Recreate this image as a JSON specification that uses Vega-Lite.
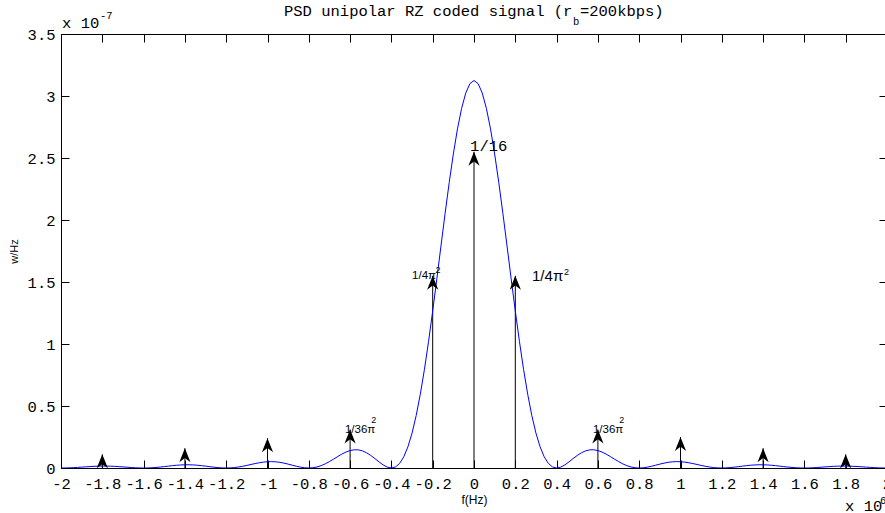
{
  "$schema": "https://vega.github.io/schema/vega-lite/v6.json",
  "width": 826,
  "height": 434,
  "autosize": {"type": "none"},
  "padding": {"left": 61, "top": 34, "right": 0, "bottom": 45},
  "background": "white",
  "config": {
    "view": {"stroke": null},
    "axis": {"grid": false, "domainColor": "black", "tickColor": "black", "domainWidth": 1, "tickWidth": 1, "labelColor": "black", "titleColor": "black"}
  },
  "datasets": {
    "curve": [
      {"f":-2.00,"p":0},{"f":-1.98,"p":0.0003},{"f":-1.96,"p":0.0013},{"f":-1.94,"p":0.0028},{"f":-1.92,"p":0.0048},
      {"f":-1.90,"p":0.0070},{"f":-1.88,"p":0.0094},{"f":-1.86,"p":0.0116},{"f":-1.84,"p":0.0135},{"f":-1.82,"p":0.0149},
      {"f":-1.80,"p":0.0156},{"f":-1.78,"p":0.0156},{"f":-1.76,"p":0.0148},{"f":-1.74,"p":0.0133},{"f":-1.72,"p":0.0112},
      {"f":-1.70,"p":0.0088},{"f":-1.68,"p":0.0062},{"f":-1.66,"p":0.0038},{"f":-1.64,"p":0.0018},{"f":-1.62,"p":0.0005},
      {"f":-1.60,"p":0},{"f":-1.58,"p":0.0005},{"f":-1.56,"p":0.0020},{"f":-1.54,"p":0.0044},{"f":-1.52,"p":0.0076},
      {"f":-1.50,"p":0.0113},{"f":-1.48,"p":0.0151},{"f":-1.46,"p":0.0189},{"f":-1.44,"p":0.0221},{"f":-1.42,"p":0.0245},
      {"f":-1.40,"p":0.0259},{"f":-1.38,"p":0.0260},{"f":-1.36,"p":0.0248},{"f":-1.34,"p":0.0224},{"f":-1.32,"p":0.0190},
      {"f":-1.30,"p":0.0150},{"f":-1.28,"p":0.0107},{"f":-1.26,"p":0.0066},{"f":-1.24,"p":0.0032},{"f":-1.22,"p":0.0008},
      {"f":-1.20,"p":0},{"f":-1.18,"p":0.0009},{"f":-1.16,"p":0.0036},{"f":-1.14,"p":0.0080},{"f":-1.12,"p":0.0140},
      {"f":-1.10,"p":0.0209},{"f":-1.08,"p":0.0284},{"f":-1.06,"p":0.0358},{"f":-1.04,"p":0.0424},{"f":-1.02,"p":0.0475},
      {"f":-1.00,"p":0.0507},{"f":-0.98,"p":0.0515},{"f":-0.96,"p":0.0497},{"f":-0.94,"p":0.0455},{"f":-0.92,"p":0.0392},
      {"f":-0.90,"p":0.0313},{"f":-0.88,"p":0.0226},{"f":-0.86,"p":0.0141},{"f":-0.84,"p":0.0069},{"f":-0.82,"p":0.0018},
      {"f":-0.80,"p":0},{"f":-0.78,"p":0.0020},{"f":-0.76,"p":0.0084},{"f":-0.74,"p":0.0191},{"f":-0.72,"p":0.0338},
      {"f":-0.70,"p":0.0517},{"f":-0.68,"p":0.0717},{"f":-0.66,"p":0.0923},{"f":-0.64,"p":0.1119},{"f":-0.62,"p":0.1286},
      {"f":-0.60,"p":0.1407},{"f":-0.58,"p":0.1469},{"f":-0.56,"p":0.1461},{"f":-0.54,"p":0.1379},{"f":-0.52,"p":0.1226},
      {"f":-0.50,"p":0.1013},{"f":-0.48,"p":0.0760},{"f":-0.46,"p":0.0494},{"f":-0.44,"p":0.0250},{"f":-0.42,"p":0.0070},
      {"f":-0.40,"p":0},{"f":-0.38,"p":0.0086},{"f":-0.36,"p":0.0373},{"f":-0.34,"p":0.0903},{"f":-0.32,"p":0.1709},
      {"f":-0.30,"p":0.2814},{"f":-0.28,"p":0.4229},{"f":-0.26,"p":0.5950},{"f":-0.24,"p":0.7955},{"f":-0.22,"p":1.0211},
      {"f":-0.20,"p":1.2665},{"f":-0.18,"p":1.5253},{"f":-0.16,"p":1.7900},{"f":-0.14,"p":2.0520},{"f":-0.12,"p":2.3026},
      {"f":-0.10,"p":2.5330},{"f":-0.08,"p":2.7348},{"f":-0.06,"p":2.9004},{"f":-0.04,"p":3.0236},{"f":-0.02,"p":3.0994},
      {"f":0,"p":3.125},
      {"f":0.02,"p":3.0994},{"f":0.04,"p":3.0236},{"f":0.06,"p":2.9004},{"f":0.08,"p":2.7348},{"f":0.10,"p":2.5330},
      {"f":0.12,"p":2.3026},{"f":0.14,"p":2.0520},{"f":0.16,"p":1.7900},{"f":0.18,"p":1.5253},{"f":0.20,"p":1.2665},
      {"f":0.22,"p":1.0211},{"f":0.24,"p":0.7955},{"f":0.26,"p":0.5950},{"f":0.28,"p":0.4229},{"f":0.30,"p":0.2814},
      {"f":0.32,"p":0.1709},{"f":0.34,"p":0.0903},{"f":0.36,"p":0.0373},{"f":0.38,"p":0.0086},{"f":0.40,"p":0},
      {"f":0.42,"p":0.0070},{"f":0.44,"p":0.0250},{"f":0.46,"p":0.0494},{"f":0.48,"p":0.0760},{"f":0.50,"p":0.1013},
      {"f":0.52,"p":0.1226},{"f":0.54,"p":0.1379},{"f":0.56,"p":0.1461},{"f":0.58,"p":0.1469},{"f":0.60,"p":0.1407},
      {"f":0.62,"p":0.1286},{"f":0.64,"p":0.1119},{"f":0.66,"p":0.0923},{"f":0.68,"p":0.0717},{"f":0.70,"p":0.0517},
      {"f":0.72,"p":0.0338},{"f":0.74,"p":0.0191},{"f":0.76,"p":0.0084},{"f":0.78,"p":0.0020},{"f":0.80,"p":0},
      {"f":0.82,"p":0.0018},{"f":0.84,"p":0.0069},{"f":0.86,"p":0.0141},{"f":0.88,"p":0.0226},{"f":0.90,"p":0.0313},
      {"f":0.92,"p":0.0392},{"f":0.94,"p":0.0455},{"f":0.96,"p":0.0497},{"f":0.98,"p":0.0515},{"f":1.00,"p":0.0507},
      {"f":1.02,"p":0.0475},{"f":1.04,"p":0.0424},{"f":1.06,"p":0.0358},{"f":1.08,"p":0.0284},{"f":1.10,"p":0.0209},
      {"f":1.12,"p":0.0140},{"f":1.14,"p":0.0080},{"f":1.16,"p":0.0036},{"f":1.18,"p":0.0009},{"f":1.20,"p":0},
      {"f":1.22,"p":0.0008},{"f":1.24,"p":0.0032},{"f":1.26,"p":0.0066},{"f":1.28,"p":0.0107},{"f":1.30,"p":0.0150},
      {"f":1.32,"p":0.0190},{"f":1.34,"p":0.0224},{"f":1.36,"p":0.0248},{"f":1.38,"p":0.0260},{"f":1.40,"p":0.0259},
      {"f":1.42,"p":0.0245},{"f":1.44,"p":0.0221},{"f":1.46,"p":0.0189},{"f":1.48,"p":0.0151},{"f":1.50,"p":0.0113},
      {"f":1.52,"p":0.0076},{"f":1.54,"p":0.0044},{"f":1.56,"p":0.0020},{"f":1.58,"p":0.0005},{"f":1.60,"p":0},
      {"f":1.62,"p":0.0005},{"f":1.64,"p":0.0018},{"f":1.66,"p":0.0038},{"f":1.68,"p":0.0062},{"f":1.70,"p":0.0088},
      {"f":1.72,"p":0.0112},{"f":1.74,"p":0.0133},{"f":1.76,"p":0.0148},{"f":1.78,"p":0.0156},{"f":1.80,"p":0.0156},
      {"f":1.82,"p":0.0149},{"f":1.84,"p":0.0135},{"f":1.86,"p":0.0116},{"f":1.88,"p":0.0094},{"f":1.90,"p":0.0070},
      {"f":1.92,"p":0.0048},{"f":1.94,"p":0.0028},{"f":1.96,"p":0.0013},{"f":1.98,"p":0.0003},{"f":2.00,"p":0}
    ],
    "imp": [
      {"f":-1.8,"h":0.11},{"f":-1.4,"h":0.16},{"f":-1,"h":0.24},{"f":-0.6,"h":0.31},{"f":-0.2,"h":1.55},
      {"f":0,"h":2.55},
      {"f":0.2,"h":1.55},{"f":0.6,"h":0.31},{"f":1,"h":0.25},{"f":1.4,"h":0.16},{"f":1.8,"h":0.11}
    ],
    "notes": [
      {"g":"mono","f":-0.920,"y":3.645,"t":"PSD unipolar RZ coded signal (r"},
      {"g":"monoSmall","f":0.479,"y":3.573,"t":"b"},
      {"g":"mono","f":0.513,"y":3.645,"t":"=200kbps)"},
      {"g":"mono","f":-0.019,"y":2.556,"t":"1/16"},
      {"g":"mono","f":-1.995,"y":3.548,"t":"x 10"},
      {"g":"monoSmall","f":-1.811,"y":3.621,"t":"-7"},
      {"g":"mono","f":1.797,"y":-0.347,"t":"x 10"},
      {"g":"monoSmall","f":1.966,"y":-0.290,"t":"6"},
      {"g":"sansL","f":0.281,"y":1.508,"t":"1/4π"},
      {"g":"sup","f":0.436,"y":1.556,"t":"2"},
      {"g":"sansS","f":-0.300,"y":1.524,"t":"1/4π"},
      {"g":"sup","f":-0.186,"y":1.573,"t":"2"},
      {"g":"sansM","f":-0.625,"y":0.282,"t":"1/36π"},
      {"g":"sup","f":-0.497,"y":0.363,"t":"2"},
      {"g":"sansM","f":0.576,"y":0.282,"t":"1/36π"},
      {"g":"sup","f":0.703,"y":0.363,"t":"2"}
    ]
  },
  "resolve": {"axis": {"x": "independent", "y": "independent"}},
  "layer": [
    {
      "data": {"name": "imp"},
      "mark": {"type": "rule", "color": "black", "strokeWidth": 1},
      "encoding": {
        "x": {"field": "f", "type": "quantitative", "scale": {"domain": [-2, 2], "nice": false, "zero": false},
          "axis": {"orient": "top", "labels": false, "title": null, "tickSize": -8, "values": [-2,-1.8,-1.6,-1.4,-1.2,-1,-0.8,-0.6,-0.4,-0.2,0,0.2,0.4,0.6,0.8,1,1.2,1.4,1.6,1.8,2]}},
        "y": {"field": "h", "type": "quantitative", "scale": {"domain": [0, 3.5], "nice": false},
          "axis": {"orient": "right", "labels": false, "title": null, "tickSize": -8, "values": [0,0.5,1,1.5,2,2.5,3,3.5]}},
        "y2": {"datum": 0}
      }
    },
    {
      "data": {"name": "curve"},
      "mark": {"type": "line", "color": "#0000ff", "strokeWidth": 1, "clip": true},
      "encoding": {
        "x": {"field": "f", "type": "quantitative",
          "axis": {"orient": "bottom", "title": "f(Hz)", "tickSize": -8, "labelPadding": 16, "labelFont": "Liberation Mono", "labelFontSize": 15.5,
            "labelExpr": "'' + datum.value", "labelOverlap": false, "labelFlush": false, "labelBound": false,
            "titleFont": "Liberation Sans", "titleFontSize": 12, "titleFontWeight": "normal", "titlePadding": 3,
            "values": [-2,-1.8,-1.6,-1.4,-1.2,-1,-0.8,-0.6,-0.4,-0.2,0,0.2,0.4,0.6,0.8,1,1.2,1.4,1.6,1.8,2]}},
        "y": {"field": "p", "type": "quantitative",
          "axis": {"orient": "left", "title": "w/Hz", "tickSize": -8, "labelPadding": 14, "labelFont": "Liberation Mono", "labelFontSize": 15.5,
            "labelExpr": "'' + datum.value", "labelOverlap": false, "labelFlush": false, "labelBound": false,
            "titleFont": "Liberation Sans", "titleFontSize": 11, "titleFontWeight": "normal", "titlePadding": 8,
            "values": [0,0.5,1,1.5,2,2.5,3,3.5]}}
      }
    },
    {
      "data": {"name": "imp"},
      "mark": {"type": "point", "shape": "M0,0 L0.4,1 L0,0.7 L-0.4,1 Z", "size": 784, "filled": true, "color": "black", "opacity": 1, "strokeWidth": 0},
      "encoding": {
        "x": {"field": "f", "type": "quantitative", "axis": null},
        "y": {"field": "h", "type": "quantitative", "axis": null}
      }
    },
    {
      "data": {"name": "notes"},
      "transform": [{"filter": "datum.g == 'mono'"}],
      "mark": {"type": "text", "font": "Liberation Mono", "fontSize": 15.5, "align": "left", "baseline": "alphabetic", "color": "black"},
      "encoding": {
        "x": {"field": "f", "type": "quantitative", "axis": null},
        "y": {"field": "y", "type": "quantitative", "axis": null},
        "text": {"field": "t"}
      }
    },
    {
      "data": {"name": "notes"},
      "transform": [{"filter": "datum.g == 'monoSmall'"}],
      "mark": {"type": "text", "font": "Liberation Mono", "fontSize": 10.5, "align": "left", "baseline": "alphabetic", "color": "black"},
      "encoding": {
        "x": {"field": "f", "type": "quantitative", "axis": null},
        "y": {"field": "y", "type": "quantitative", "axis": null},
        "text": {"field": "t"}
      }
    },
    {
      "data": {"name": "notes"},
      "transform": [{"filter": "datum.g == 'sansL'"}],
      "mark": {"type": "text", "font": "Liberation Sans", "fontSize": 15, "align": "left", "baseline": "alphabetic", "color": "black"},
      "encoding": {
        "x": {"field": "f", "type": "quantitative", "axis": null},
        "y": {"field": "y", "type": "quantitative", "axis": null},
        "text": {"field": "t"}
      }
    },
    {
      "data": {"name": "notes"},
      "transform": [{"filter": "datum.g == 'sansS'"}],
      "mark": {"type": "text", "font": "Liberation Sans", "fontSize": 11.5, "align": "left", "baseline": "alphabetic", "color": "black"},
      "encoding": {
        "x": {"field": "f", "type": "quantitative", "axis": null},
        "y": {"field": "y", "type": "quantitative", "axis": null},
        "text": {"field": "t"}
      }
    },
    {
      "data": {"name": "notes"},
      "transform": [{"filter": "datum.g == 'sansM'"}],
      "mark": {"type": "text", "font": "Liberation Sans", "fontSize": 11.5, "align": "left", "baseline": "alphabetic", "color": "black"},
      "encoding": {
        "x": {"field": "f", "type": "quantitative", "axis": null},
        "y": {"field": "y", "type": "quantitative", "axis": null},
        "text": {"field": "t"}
      }
    },
    {
      "data": {"name": "notes"},
      "transform": [{"filter": "datum.g == 'sup'"}],
      "mark": {"type": "text", "font": "Liberation Sans", "fontSize": 9, "align": "left", "baseline": "alphabetic", "color": "black"},
      "encoding": {
        "x": {"field": "f", "type": "quantitative", "axis": null},
        "y": {"field": "y", "type": "quantitative", "axis": null},
        "text": {"field": "t"}
      }
    }
  ]
}
